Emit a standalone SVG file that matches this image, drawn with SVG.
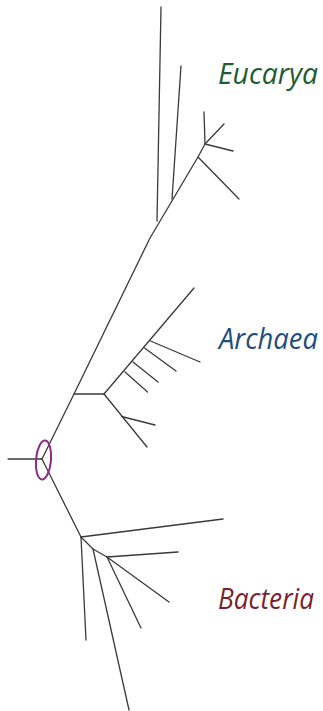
<svg xmlns="http://www.w3.org/2000/svg" width="323" height="711" viewBox="0 0 323 711">
<style>
.br{fill:none;stroke:#3a3a3a;stroke-width:1.3;stroke-linecap:round;stroke-linejoin:round}
.lbl{font-family:"Open Sans","Noto Sans","DejaVu Sans",sans-serif;font-style:italic;font-size:29px}
</style>
<rect width="323" height="711" fill="#ffffff"/>
<g id="connectors">
<path class="br" d="M8,459 L42,459"/>
<path class="br" d="M42,459 L74,394 L150,238 L198,157 L205,144 L224,124"/>
<path class="br" d="M157,221 L161,7"/>
<path class="br" d="M172,199 L181,66"/>
<path class="br" d="M205,144 L204,112"/>
<path class="br" d="M205,144 L233,151"/>
<path class="br" d="M198,157 L239,199"/>
<path class="br" d="M74,394 L104,394"/>
<path class="br" d="M104,394 L194,288"/>
<path class="br" d="M150.5,341 L200,362"/>
<path class="br" d="M144.5,348 L176,371"/>
<path class="br" d="M133,362 L158,382"/>
<path class="br" d="M125,372 L147.5,392"/>
<path class="br" d="M104,394 L147,447"/>
<path class="br" d="M121.5,416.5 L155,425"/>
<path class="br" d="M42,459 L81,537"/>
<path class="br" d="M81,537 L223,519"/>
<path class="br" d="M81,537 L86,640"/>
<path class="br" d="M81,537 L93,549 L107,557"/>
<path class="br" d="M93,549 L129,710"/>
<path class="br" d="M107,557 L178,552"/>
<path class="br" d="M107,557 L169,602"/>
<path class="br" d="M107,557 L141,628"/>
</g>
<g id="root-marker">
<ellipse cx="43.5" cy="460" rx="7.5" ry="19.5" transform="rotate(5 43.5 460)" fill="none" stroke="#8e2a8c" stroke-width="2"/>
</g>
<g id="eucarya">
<text class="lbl" x="218" y="84" fill="#1d5c34" textLength="100" lengthAdjust="spacingAndGlyphs">Eucarya</text>
</g>
<g id="archaea">
<text class="lbl" x="219" y="349" fill="#1e4d80" textLength="99" lengthAdjust="spacingAndGlyphs">Archaea</text>
</g>
<g id="bacteria">
<text class="lbl" x="218" y="609" fill="#7a1f2c" textLength="96" lengthAdjust="spacingAndGlyphs">Bacteria</text>
</g>
</svg>
